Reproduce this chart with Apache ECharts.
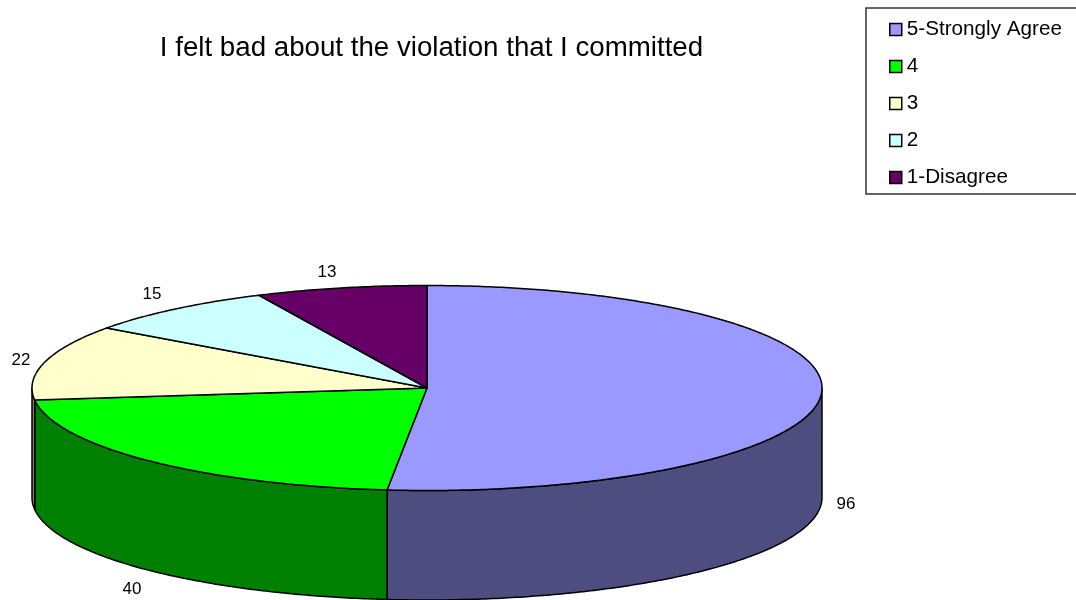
<!DOCTYPE html>
<html><head><meta charset="utf-8">
<style>html,body{margin:0;padding:0;background:#fff}#c{width:1076px;height:600px}</style>
<script src="https://cdn.jsdelivr.net/npm/echarts@6/dist/echarts.min.js"></script>
</head><body><div id="c"></div>
<script>
var categories = ["5-Strongly Agree", "4", "3", "2", "1-Disagree"];
var values = [96, 40, 22, 15, 13];
var topColors = ["#9999ff", "#00ff00", "#ffffcc", "#ccffff", "#660066"];
var sideColors = ["#4d4d80", "#008000", "#808066", "#668080", "#330033"];
var labelOffsets = [[846, 504], [132, 589], [21, 360], [152, 294], [327, 272]];

var cx = 427, cy = 388, rx = 395, ry = 102.5, depth = 109.5;
var total = values.reduce(function (a, b) { return a + b; }, 0);
var TAU = Math.PI * 2;

function pt(a, dy) { return [cx + rx * Math.sin(a), cy - ry * Math.cos(a) + (dy || 0)]; }
function arc(a0, a1, dy) {
  var n = Math.max(2, Math.ceil(Math.abs(a1 - a0) / 0.01)), out = [];
  for (var i = 0; i <= n; i++) out.push(pt(a0 + (a1 - a0) * i / n, dy));
  return out;
}
var stroke = { stroke: "#000", lineWidth: 1.5, lineJoin: "round" };

function makeRender(idx) {
  return function (params, api) {
    var before = 0;
    for (var i = 0; i < idx; i++) before += values[i];
    var a0 = before / total * TAU, a1 = (before + values[idx]) / total * TAU;
    var children = [];
    var s0 = Math.max(a0, Math.PI / 2), s1 = Math.min(a1, Math.PI * 1.5);
    if (s1 > s0) {
      var side = arc(s0, s1, 0).concat(arc(s1, s0, depth));
      children.push({ type: "polygon", shape: { points: side },
        style: Object.assign({ fill: sideColors[idx] }, stroke) });
    }
    var top = [[cx, cy]].concat(arc(a0, a1, 0));
    children.push({ type: "polygon", z2: 5, shape: { points: top },
      style: Object.assign({ fill: topColors[idx] }, stroke) });
    children.push({ type: "text", z2: 6, style: {
      x: labelOffsets[idx][0], y: labelOffsets[idx][1], text: String(values[idx]),
      fill: "#000", font: '17px "Liberation Sans", Arial, sans-serif',
      align: "center", verticalAlign: "middle" } });
    return { type: "group", children: children };
  };
}

var chart = echarts.init(document.getElementById("c"), null, { renderer: "canvas" });
chart.setOption({
  animation: false,
  backgroundColor: "#ffffff",
  title: {
    text: "I felt bad about the violation that I committed",
    left: 426.5, top: 29, textAlign: "center",
    textStyle: { color: "#000", fontSize: 27.7, fontWeight: "normal", fontFamily: '"Liberation Sans", Arial, sans-serif' }
  },
  legend: {
    orient: "vertical", left: 866, top: 8,
    padding: [11, 15, 6, 23],
    itemWidth: 12, itemHeight: 12, itemGap: 16,
    borderColor: "#333", borderWidth: 1.5, backgroundColor: "#fff",
    data: categories.map(function (c, i) {
      return { name: c, icon: "rect", itemStyle: { color: topColors[i], borderColor: "#000", borderWidth: 1.5 } };
    }),
    textStyle: { color: "#000", fontSize: 20.7, fontFamily: '"Liberation Sans", Arial, sans-serif' }
  },
  series: categories.map(function (c, i) {
    return { type: "custom", name: c, coordinateSystem: "none", silent: true,
      itemStyle: { color: topColors[i] }, data: [values[i]], renderItem: makeRender(i) };
  })
});
</script></body></html>
